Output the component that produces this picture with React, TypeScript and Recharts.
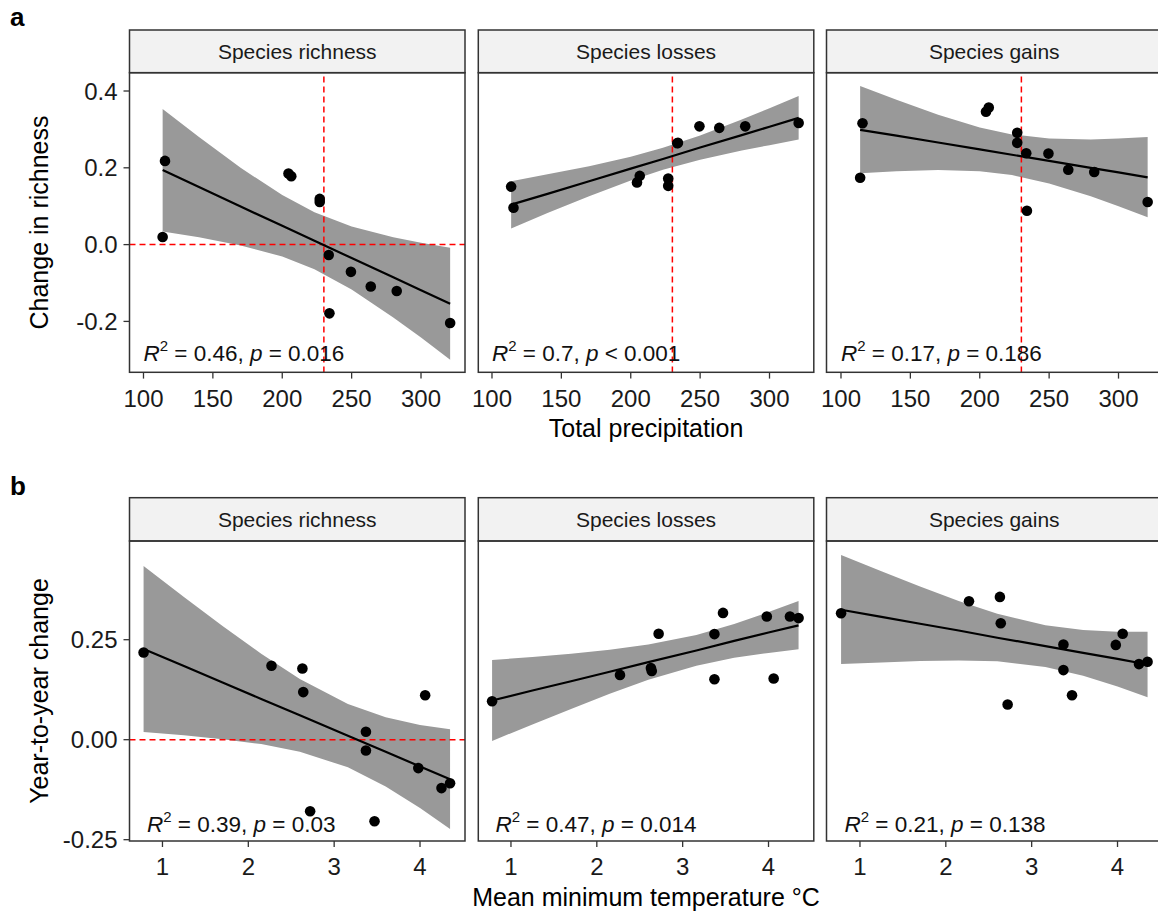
import React from "react";
import {
  ComposedChart,
  Area,
  Line,
  Scatter,
  XAxis,
  YAxis,
  ReferenceLine,
  ReferenceDot,
} from "recharts";

const FONT = '"Liberation Sans", Arial, Helvetica, sans-serif';

// one observation per year
const precipitation = [115.5, 113.8, 204.5, 206.5, 227.0, 227.0, 233.5, 234.0, 249.5, 263.8, 282.5, 321.0];
const minTemperature = [0.78, 3.37, 2.27, 2.63, 2.64, 4.06, 3.37, 2.72, 3.98, 4.35, 4.25, 3.47];
const richnessChange = [0.218, 0.02, 0.185, 0.178, 0.119, 0.111, -0.027, -0.179, -0.071, -0.109, -0.121, -0.204];
const speciesLosses = [0.096, 0.151, 0.162, 0.179, 0.172, 0.153, 0.264, 0.265, 0.308, 0.304, 0.308, 0.317];
const speciesGains = [0.316, 0.174, 0.346, 0.357, 0.291, 0.265, 0.238, 0.088, 0.237, 0.195, 0.189, 0.111];

// fitted lines and confidence bands
const precipGrid = [113.8, 140, 170, 200, 223.2, 250, 280, 300, 321];
const richPrecipFit = [0.194, 0.15, 0.099, 0.049, 0.01, -0.035, -0.085, -0.119, -0.154];
const richPrecipLo = [0.034, 0.019, -0.002, -0.031, -0.064, -0.117, -0.19, -0.242, -0.3];
const richPrecipHi = [0.353, 0.28, 0.2, 0.129, 0.084, 0.047, 0.019, 0.005, -0.008];
const lossPrecipFit = [0.104, 0.132, 0.165, 0.198, 0.223, 0.253, 0.285, 0.307, 0.33];
const lossPrecipLo = [0.042, 0.082, 0.126, 0.167, 0.195, 0.221, 0.245, 0.259, 0.274];
const lossPrecipHi = [0.165, 0.183, 0.204, 0.229, 0.252, 0.284, 0.326, 0.355, 0.387];
const gainPrecipFit = [0.299, 0.284, 0.266, 0.248, 0.234, 0.218, 0.2, 0.188, 0.175];
const gainPrecipLo = [0.186, 0.191, 0.194, 0.191, 0.181, 0.159, 0.126, 0.1, 0.071];
const gainPrecipHi = [0.413, 0.377, 0.338, 0.305, 0.287, 0.276, 0.274, 0.276, 0.28];

const tempGrid = [0.78, 1.25, 1.7, 2.15, 2.6, 3.16, 3.6, 4.0, 4.35];
const richTempFit = [0.227, 0.184, 0.143, 0.102, 0.061, 0.01, -0.03, -0.067, -0.099];
const richTempLo = [0.019, 0.011, 0.001, -0.011, -0.03, -0.069, -0.117, -0.171, -0.223];
const richTempHi = [0.434, 0.357, 0.284, 0.215, 0.152, 0.089, 0.056, 0.037, 0.026];
const lossTempFit = [0.098, 0.123, 0.146, 0.17, 0.194, 0.223, 0.247, 0.268, 0.286];
const lossTempLo = [-0.003, 0.038, 0.077, 0.115, 0.15, 0.185, 0.205, 0.217, 0.226];
const lossTempHi = [0.199, 0.207, 0.215, 0.225, 0.238, 0.262, 0.289, 0.319, 0.347];
const gainTempFit = [0.325, 0.307, 0.29, 0.273, 0.255, 0.234, 0.217, 0.202, 0.188];
const gainTempLo = [0.189, 0.193, 0.197, 0.198, 0.196, 0.182, 0.16, 0.133, 0.106];
const gainTempHi = [0.462, 0.421, 0.383, 0.347, 0.315, 0.286, 0.274, 0.27, 0.27];

const facetNames = ["Species richness", "Species losses", "Species gains"];
const precipTicks = [100, 150, 200, 250, 300];
const tempTicks = [1, 2, 3, 4];
const richnessTicks = [-0.2, 0, 0.2, 0.4];
const yearTicks = [-0.25, 0, 0.25];
const precipR2 = ["0.46", "0.7", "0.17"];
const precipP = ["= 0.016", "< 0.001", "= 0.186"];
const tempR2 = ["0.39", "0.47", "0.21"];
const tempP = ["= 0.03", "= 0.014", "= 0.138"];

const COL_LEFT = [129.5, 478.3, 826.5];
const PANEL_W = 335.5;

const ROWS = [
  {
    letter: "a",
    letterY: 26,
    stripTop: 30,
    plotTop: 72.7,
    plotH: 299.6,
    xDomain: [89.92, 331.7],
    yDomain: [-0.3333, 0.4469],
    xTicks: precipTicks,
    yTicks: richnessTicks,
    yFormat: (v: number) => v.toFixed(1),
    xTitle: "Total precipitation",
    xTitleY: 436.7,
    yTitle: "Change in richness",
    labelX: 100,
    labelY: -0.303,
    vline: 230,
    xs: precipitation,
    grid: precipGrid,
    series: [
      { ys: richnessChange, fit: richPrecipFit, lo: richPrecipLo, hi: richPrecipHi, hline: true },
      { ys: speciesLosses, fit: lossPrecipFit, lo: lossPrecipLo, hi: lossPrecipHi, hline: false },
      { ys: speciesGains, fit: gainPrecipFit, lo: gainPrecipLo, hi: gainPrecipHi, hline: false },
    ],
    r2: precipR2,
    p: precipP,
  },
  {
    letter: "b",
    letterY: 495,
    stripTop: 497.7,
    plotTop: 541,
    plotH: 300,
    xDomain: [0.616, 4.524],
    yDomain: [-0.2533, 0.4968],
    xTicks: tempTicks,
    yTicks: yearTicks,
    yFormat: (v: number) => v.toFixed(2),
    xTitle: "Mean minimum temperature °C",
    xTitleY: 906,
    yTitle: "Year-to-year change",
    labelX: 0.82,
    labelY: -0.23,
    vline: null,
    xs: minTemperature,
    grid: tempGrid,
    series: [
      { ys: richnessChange, fit: richTempFit, lo: richTempLo, hi: richTempHi, hline: true },
      { ys: speciesLosses, fit: lossTempFit, lo: lossTempLo, hi: lossTempHi, hline: false },
      { ys: speciesGains, fit: gainTempFit, lo: gainTempLo, hi: gainTempHi, hline: false },
    ],
    r2: tempR2,
    p: tempP,
  },
];

function statLabel(r2: string, p: string) {
  return (props: any) => {
    const vb = props.viewBox || {};
    return (
      <text x={vb.x} y={vb.y} fontFamily={FONT} fontSize={22.5} fill="#111" style={{ whiteSpace: "pre" }}>
        <tspan fontStyle="italic">R</tspan>
        <tspan fontSize={15} dy={-10}>2</tspan>
        <tspan dy={10}>{` = ${r2}, `}</tspan>
        <tspan fontStyle="italic">p</tspan>
        <tspan>{` ${p}`}</tspan>
      </text>
    );
  };
}

const dot = (props: any) => <circle cx={props.cx} cy={props.cy} r={5.3} fill="#000" />;

function Facet({ row, col }: { row: number; col: number }) {
  const r = ROWS[row];
  const s = r.series[col];
  const left = COL_LEFT[col];
  // first column carries the y axis; the others only need room for the first x tick label
  const yW = col === 0 ? left : 0;
  const pad = col === 0 ? 0 : 24;
  const band = r.grid.map((x, i) => ({ x, band: [s.lo[i], s.hi[i]], fit: s.fit[i] }));
  const points = r.xs.map((x, i) => ({ x, y: s.ys[i] }));

  return (
    <div style={{ position: "absolute", left: left - yW - pad, top: r.plotTop }}>
      <ComposedChart
        width={PANEL_W + yW + pad}
        height={r.plotH + 50}
        data={band}
        margin={{ top: 0, right: 0, bottom: 0, left: pad }}
      >
        <XAxis
          type="number"
          dataKey="x"
          domain={r.xDomain}
          ticks={r.xTicks}
          interval={0}
          allowDataOverflow
          height={50}
          axisLine={false}
          tickSize={6}
          tickMargin={11}
          tickLine={{ stroke: "#333", strokeWidth: 1.3 }}
          tick={{ fill: "#1a1a1a", fontSize: 24, fontFamily: FONT }}
        />
        <YAxis
          type="number"
          domain={r.yDomain}
          ticks={r.yTicks}
          interval={0}
          allowDataOverflow
          hide={col !== 0}
          width={yW}
          axisLine={false}
          tickSize={6}
          tickMargin={6}
          tickFormatter={r.yFormat}
          tickLine={{ stroke: "#333", strokeWidth: 1.3 }}
          tick={{ fill: "#1a1a1a", fontSize: 24, fontFamily: FONT }}
        />
        <Area
          dataKey="band"
          type="linear"
          fill="#999999"
          fillOpacity={1}
          stroke="none"
          isAnimationActive={false}
        />
        {r.vline !== null && (
          <ReferenceLine x={r.vline} stroke="#ff0000" strokeWidth={1.5} strokeDasharray="6 4" />
        )}
        {s.hline && <ReferenceLine y={0} stroke="#ff0000" strokeWidth={1.5} strokeDasharray="6 4" />}
        <Line
          dataKey="fit"
          type="linear"
          stroke="#000"
          strokeWidth={2.2}
          dot={false}
          activeDot={false}
          isAnimationActive={false}
        />
        <Scatter data={points} dataKey="y" shape={dot} isAnimationActive={false} />
        <ReferenceDot
          x={r.labelX}
          y={r.labelY}
          r={0}
          fill="none"
          stroke="none"
          label={statLabel(r.r2[col], r.p[col])}
        />
      </ComposedChart>
    </div>
  );
}

function Frame() {
  return (
    <svg
      width={1158}
      height={911}
      style={{ position: "absolute", left: 0, top: 0, pointerEvents: "none" }}
      fontFamily={FONT}
    >
      {ROWS.map((r, ri) => (
        <g key={ri}>
          <text x={10} y={r.letterY} fontSize={26} fontWeight="bold" fill="#000">
            {r.letter}
          </text>
          {COL_LEFT.map((left, ci) => (
            <g key={ci}>
              <rect
                x={left}
                y={r.stripTop}
                width={PANEL_W}
                height={r.plotTop - r.stripTop}
                fill="#f2f2f2"
                stroke="#333"
                strokeWidth={1.5}
              />
              <text
                x={left + PANEL_W / 2}
                y={(r.stripTop + r.plotTop) / 2 + 7.5}
                textAnchor="middle"
                fontSize={21}
                fill="#1a1a1a"
              >
                {facetNames[ci]}
              </text>
              <rect
                x={left}
                y={r.plotTop}
                width={PANEL_W}
                height={r.plotH}
                fill="none"
                stroke="#333"
                strokeWidth={1.5}
              />
            </g>
          ))}
          <text x={COL_LEFT[1] + PANEL_W / 2} y={r.xTitleY} textAnchor="middle" fontSize={25} fill="#000">
            {r.xTitle}
          </text>
          <text
            transform={`translate(48, ${r.plotTop + r.plotH / 2}) rotate(-90)`}
            textAnchor="middle"
            fontSize={25}
            fill="#000"
          >
            {r.yTitle}
          </text>
        </g>
      ))}
    </svg>
  );
}

export default function App() {
  return (
    <div
      style={{
        position: "absolute",
        left: 0,
        top: 0,
        width: 1158,
        height: 911,
        overflow: "hidden",
        background: "#fff",
      }}
    >
      {ROWS.map((_, ri) => [0, 1, 2].map((ci) => <Facet key={`${ri}-${ci}`} row={ri} col={ci} />))}
      <Frame />
    </div>
  );
}
